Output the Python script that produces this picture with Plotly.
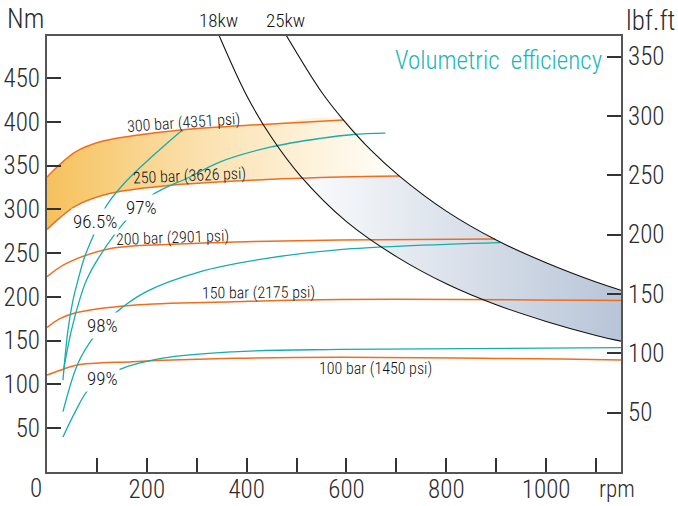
import plotly.graph_objects as go

FONT = "Liberation Sans Narrow, Roboto Condensed, DejaVu Sans Condensed, Arial Narrow, sans-serif"
ORANGE = "#EF6E1E"
TEAL = "#17ACAC"
TEXT = "#2b2b2b"

# pressure curves (rpm, Nm)
rpm_300 = [0, 25, 58, 105, 172, 273, 433, 594]
nm_300 = [337, 351, 366, 377, 384, 391, 397, 402]
rpm_250 = [0, 25, 58, 125, 239, 440, 587, 706]
nm_250 = [277, 290, 304, 318, 327, 334, 337, 338]
rpm_200 = [0, 38, 125, 250, 400, 587, 898]
nm_200 = [223, 238, 255, 260, 263, 265, 266]
rpm_150 = [0, 25, 58, 172, 373, 587, 1150]
nm_150 = [165, 175, 182, 190.6, 194.4, 197, 196]
rpm_100 = [0, 25, 58, 172, 373, 587, 1150]
nm_100 = [110.7, 116, 122, 126, 129.8, 131, 128]

# volumetric efficiency curves (rpm, Nm)
rpm_965 = [32, 42, 52, 62, 75, 95, 111, 126, 160, 206, 270]
nm_965 = [105, 162, 196, 219, 245, 273, 296, 310, 333, 358, 390]
rpm_97 = [33, 49, 65, 79, 105, 159, 210, 286, 346, 447, 547, 614, 678]
nm_97 = [116, 162, 196, 219, 246, 288, 316, 337, 354, 371, 381, 385.5, 387]
rpm_98 = [32, 62, 94, 132, 199, 306, 440, 587, 908]
nm_98 = [69, 124, 154.5, 179, 206, 228.7, 244, 254, 262]
rpm_99 = [32, 55, 85, 142, 232, 373, 587, 1150]
nm_99 = [40, 67, 95.5, 116.4, 130, 137.3, 140, 142]

# constant power curves (rpm, Nm)
rpm_18kw = [343, 400, 450, 508, 600, 700, 800, 900, 1000, 1100, 1150]
nm_18kw = [501, 430, 382, 338, 286, 246, 215, 191, 172, 156, 149.5]
rpm_25kw = [477, 550, 594, 650, 706, 800, 900, 1000, 1100, 1150]
nm_25kw = [501, 434, 402, 367, 338, 298, 265, 239, 217, 207.6]

pressure_labels = ["300 bar (4351 psi)", "250 bar (3626 psi)", "200 bar (2901 psi)",
                   "150 bar (2175 psi)", "100 bar (1450 psi)"]
pressure_label_rpm = [274, 286, 252, 423, 658]
pressure_label_nm = [399.5, 339, 267.7, 205, 118]
pressure_label_angle = [-4, -2.5, -2, -0.5, 0]

eff_labels = ["96.5%", "97%", "98%", "99%"]
eff_label_rpm = [96, 189, 112, 112]
eff_label_nm = [286, 302, 167, 107]

NM_TO_LBFFT = 0.73756
y_max = 498


def font(size, color=TEXT, weight=300):
    return dict(family=FONT, size=size, color=color, weight=weight)


def edge(xs, ys, fill=None, gradient=None):
    # invisible boundary used for the shaded bands
    return go.Scatter(x=xs, y=ys, mode="lines", line=dict(width=0, shape="spline"),
                      fill=fill, fillgradient=gradient, hoverinfo="skip", showlegend=False)


fig = go.Figure()

# orange band between 300 and 250 bar, closed on the right by the 25 kW curve
i0 = rpm_25kw.index(594)
i1 = rpm_25kw.index(706)
fig.add_trace(edge(rpm_250, nm_250))
fig.add_trace(edge(rpm_300 + rpm_25kw[i0 + 1:i1 + 1], nm_300 + nm_25kw[i0 + 1:i1 + 1], "tonexty",
                   dict(type="horizontal", start=0, stop=680,
                        colorscale=[[0, "#F6C15C"], [0.45, "#FBE1AE"], [1, "#FFFDF8"]])))

# blue band between the power curves, below the 250 bar curve
j0 = rpm_18kw.index(508)
fig.add_trace(edge(rpm_18kw[j0:], nm_18kw[j0:]))
fig.add_trace(edge(rpm_25kw[i1:], nm_25kw[i1:], "tonexty",
                   dict(type="horizontal", start=470, stop=1150,
                        colorscale=[[0, "#FFFFFF"], [1, "#B8C5D8"]])))

for xs, ys in [(rpm_300, nm_300), (rpm_250, nm_250), (rpm_200, nm_200),
               (rpm_150, nm_150), (rpm_100, nm_100)]:
    fig.add_trace(go.Scatter(x=xs, y=ys, mode="lines", line=dict(color=ORANGE, width=1.5, shape="spline"),
                             hoverinfo="skip", showlegend=False))

for xs, ys in [(rpm_965, nm_965), (rpm_97, nm_97), (rpm_98, nm_98), (rpm_99, nm_99)]:
    fig.add_trace(go.Scatter(x=xs, y=ys, mode="lines", line=dict(color=TEAL, width=1.3, shape="spline"),
                             hoverinfo="skip", showlegend=False))

for xs, ys in [(rpm_18kw, nm_18kw), (rpm_25kw, nm_25kw)]:
    fig.add_trace(go.Scatter(x=xs, y=ys, mode="lines", line=dict(color="#111", width=1.1, shape="spline"),
                             hoverinfo="skip", showlegend=False))

# dummy trace so the right axis is drawn
fig.add_trace(go.Scatter(x=[None], y=[None], yaxis="y2", showlegend=False, hoverinfo="skip"))

for txt, x, y, a in zip(pressure_labels, pressure_label_rpm, pressure_label_nm, pressure_label_angle):
    fig.add_annotation(x=x, y=y, text=txt, textangle=a, showarrow=False, font=font(16, "#111"))

for txt, x, y in zip(eff_labels, eff_label_rpm, eff_label_nm):
    fig.add_annotation(x=x, y=y, text=txt, showarrow=False, bgcolor="white", borderpad=1,
                       font=font(19, "#111"))

fig.add_annotation(x=905, y=470, text="Volumetric  efficiency", showarrow=False,
                   font=font(25, "#1DB5B5"))
fig.add_annotation(x=343, y=1.005, yref="paper", yanchor="bottom", text="18kw", showarrow=False,
                   font=font(19, "#111"))
fig.add_annotation(x=477, y=1.005, yref="paper", yanchor="bottom", text="25kw", showarrow=False,
                   font=font(19, "#111"))

# free texts in paper coordinates, centred on their positions
for txt, x, y, size in [("Nm", -0.0375, 1.039, 27), ("lbf.ft", 1.052, 1.035, 27),
                        ("0", -0.02, -0.037, 25), ("rpm", 0.9935, -0.041, 23)]:
    fig.add_annotation(x=x, y=y, xref="paper", yref="paper", xanchor="center", yanchor="middle",
                       text=txt, showarrow=False, font=font(size))

axis_common = dict(showgrid=False, zeroline=False, showline=True, linecolor="#555", linewidth=2,
                   ticks="inside", ticklen=14, tickwidth=1.5, tickcolor="#333", automargin=False,
                   tickfont=font(25))

x_ticks = list(range(100, 1200, 100))
fig.update_layout(
    width=678, height=506,
    margin=dict(l=47, r=57, t=36, b=34),
    paper_bgcolor="white", plot_bgcolor="white",
    xaxis=dict(range=[0, 1150], tickvals=x_ticks,
               ticktext=[str(v) if v % 200 == 0 else "" for v in x_ticks],
               ticklabelstandoff=-6, mirror=True, **axis_common),
    yaxis=dict(range=[0, y_max], tickvals=list(range(50, 500, 50)), **axis_common),
    yaxis2=dict(range=[0, y_max * NM_TO_LBFFT], tickvals=list(range(50, 400, 50)),
                overlaying="y", side="right", **axis_common),
)

# drop the default page margin so the figure fills the window exactly
fig.write_html("out.html", config={"displayModeBar": False},
               post_script="document.body.style.margin = '0';")
